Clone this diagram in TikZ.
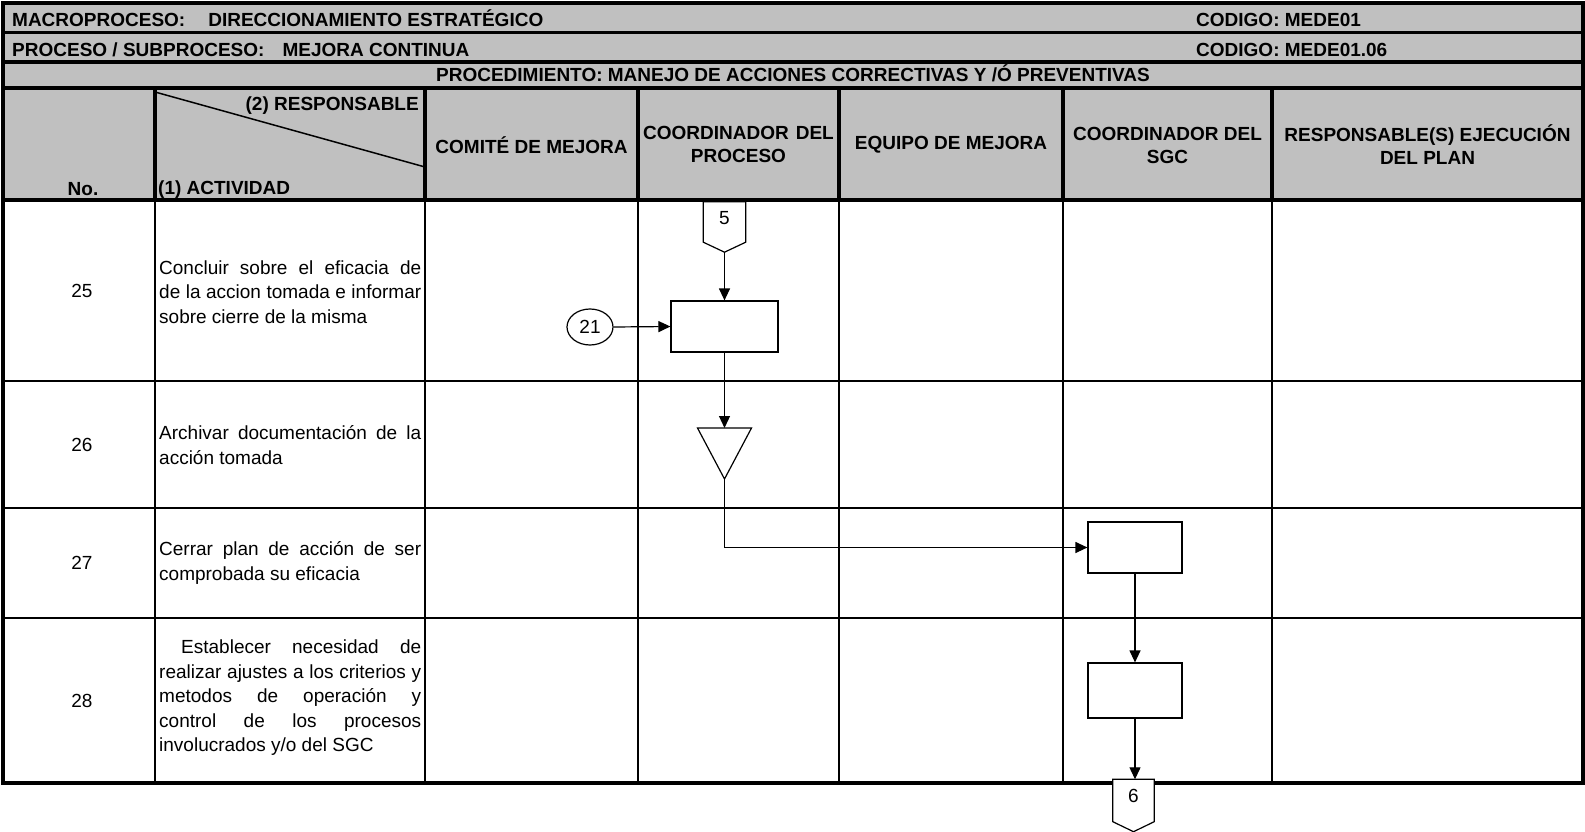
\documentclass[tikz,border=0pt]{standalone}
\usepackage{fontspec}
\setmainfont{Liberation Sans}
\usetikzlibrary{arrows.meta,shapes.geometric}
\definecolor{hdrgray}{RGB}{192,192,192}
\begin{document}
\begin{tikzpicture}[x=1pt,y=-1pt,
  thickrule/.style={line width=3.5pt},
  gridrule/.style={line width=2pt},
  flow/.style={draw, line width=1.2pt, fill=white},
  conn/.style={line width=1.2pt, -{Triangle[length=12pt,width=11pt]}},
  hdr/.style={font=\bfseries\fontsize{19}{23}\selectfont, inner sep=0pt, align=center},
  bodytxt/.style={font=\fontsize{19}{24.5}\selectfont, inner sep=0pt},
  acttxt/.style={bodytxt, align=left, anchor=west},
]
\useasboundingbox (0,0) rectangle (1585,832);
\fill[white] (0,0) rectangle (1585,832);
\fill[hdrgray] (3,3) rectangle (1583,200);

% header rules
\draw[thickrule] (3,32.5) -- (1583,32.5);
\draw[thickrule] (3,62) -- (1583,62);
\draw[thickrule] (3,88) -- (1583,88);
\foreach \xx in {155,425,638,839,1063,1272}
  \draw[thickrule] (\xx,88) -- (\xx,200);
\draw[line width=1.5pt] (155,92) -- (425,167);
% body rules
\foreach \yy in {381,508,618}
  \draw[gridrule] (3,\yy) -- (1583,\yy);
\foreach \xx in {155,425,638,839,1063,1272}
  \draw[gridrule] (\xx,200) -- (\xx,783);
\draw[line width=4pt] (3,200) -- (1583,200);
\draw[thickrule] (3,3) rectangle (1583,783);

% header texts
\node[hdr, anchor=base west] (macro) at (12,26.5) {MACROPROCESO:\hspace{23pt}DIRECCIONAMIENTO ESTRATÉGICO};
\node[hdr, anchor=base west] (cod1) at (1196,26.5) {CODIGO: MEDE01};
\node[hdr, anchor=base west] (proc) at (12,56.5) {PROCESO / SUBPROCESO:\hspace{18pt}MEJORA CONTINUA};
\node[hdr, anchor=base west] (cod2) at (1196,56.5) {CODIGO: MEDE01.06};
\node[hdr, anchor=base] (procd) at (793,82) {PROCEDIMIENTO: MANEJO DE ACCIONES CORRECTIVAS Y /Ó PREVENTIVAS};
\node[hdr, anchor=base east] (resp) at (419,111) {(2) RESPONSABLE};
\node[hdr, anchor=base west] (activ) at (158,194) {(1) ACTIVIDAD};
\node[hdr, anchor=base] (nohdr) at (83,195) {No.};
\node[hdr] (comite) at (531.5,145) {COMITÉ DE MEJORA};
\node[hdr] (coordp) at (738.5,144) {COORDINADOR\hspace{7pt}DEL\\PROCESO};
\node[hdr] (equipo) at (951,145) {EQUIPO DE MEJORA};
\node[hdr] (coords) at (1167.5,145) {COORDINADOR DEL\\SGC};
\node[hdr] (respej) at (1427.5,145) {RESPONSABLE(S) EJECUCIÓN\\DEL PLAN};

% body texts
\node[bodytxt] (n25) at (82,291) {25};
\node[bodytxt] (n26) at (82,445) {26};
\node[bodytxt] (n27) at (82,563) {27};
\node[bodytxt] (n28) at (82,701) {28};
\node[acttxt] (a25) at (159,292) {\makebox[262pt][s]{Concluir sobre el eficacia de}\\\makebox[262pt][s]{de la accion tomada e informar}\\sobre cierre de la misma};
\node[acttxt] (a26) at (159,445) {\makebox[262pt][s]{Archivar documentación de la}\\acción tomada};
\node[acttxt] (a27) at (159,563) {\makebox[262pt][s]{Cerrar plan de acción de ser}\\comprobada su eficacia};
\node[acttxt] (a28) at (159,698) {\makebox[262pt][s]{\hspace*{22pt}Establecer necesidad de}\\\makebox[262pt][s]{realizar ajustes a los criterios y}\\\makebox[262pt][s]{metodos de operación y}\\\makebox[262pt][s]{control de los procesos}\\involucrados y/o del SGC};

% flow shapes
\node[inner sep=0pt, minimum width=42pt, minimum height=50pt] (c5) at (724.5,227) {};
\draw[flow] (c5.north west) -- (c5.north east) -- ([yshift=10pt]c5.south east) -- (c5.south) -- ([yshift=10pt]c5.south west) -- cycle;
\node[bodytxt] (t5) at (724.5,218) {5};

\node[flow, minimum width=107pt, minimum height=51pt, inner sep=0pt] (boxa) at (724.5,326.5) {};
\node[flow, ellipse, minimum width=46pt, minimum height=36pt, inner sep=0pt, bodytxt] (c21) at (590,327) {21};

\coordinate (tritop) at (724.5,428);
\coordinate (tritip) at (724.5,479);
\draw[flow] (697.5,428) -- (751.5,428) -- (tritip) -- cycle;

\node[flow, minimum width=94pt, minimum height=51pt, inner sep=0pt] (boxb) at (1135,547.5) {};
\node[flow, minimum width=94pt, minimum height=55pt, inner sep=0pt] (boxc) at (1135,690.5) {};

\node[inner sep=0pt, minimum width=41pt, minimum height=52pt] (c6) at (1133.5,805.5) {};
\draw[flow] (c6.north west) -- (c6.north east) -- ([yshift=10pt]c6.south east) -- (c6.south) -- ([yshift=10pt]c6.south west) -- cycle;
\node[bodytxt] (t6) at (1133.5,796) {6};

% connectors
\draw[conn] (c5.south) -- (boxa.north);
\draw[conn] (c21.east) -- (boxa.west);
\draw[conn] (boxa.south) -- (tritop);
\draw[conn] (tritip) |- (boxb.west);
\draw[conn] (boxb.south) -- (boxb.south |- boxc.north);
\draw[conn] (boxc.south) -- (boxc.south |- c6.north);
\end{tikzpicture}
\end{document}
